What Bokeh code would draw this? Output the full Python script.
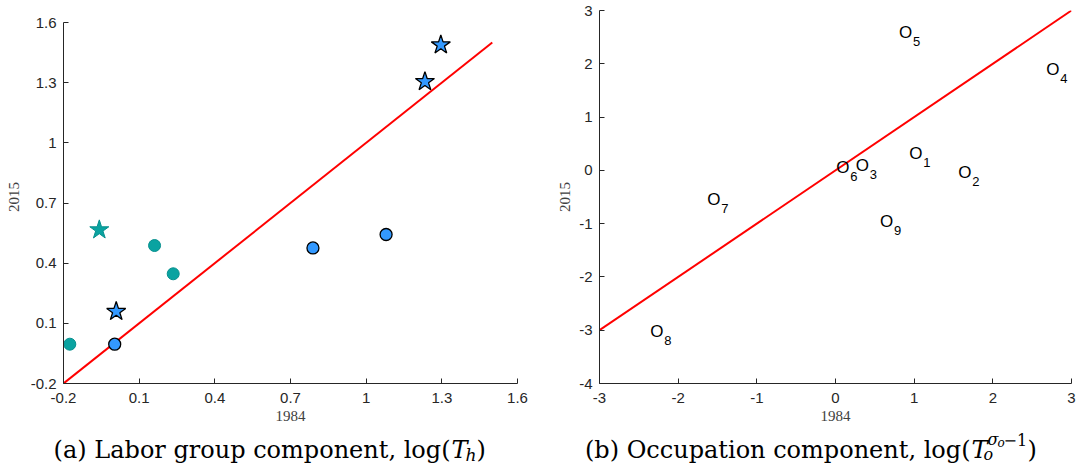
from bokeh.plotting import figure
from bokeh.layouts import row, column
from bokeh.models import Label, Range1d, FixedTicker
from bokeh.core.properties import value
from bokeh.embed import file_html
from bokeh.resources import INLINE

# ---------------- data: panel (a) ----------------
teal_circle_x = [-0.175, 0.161, 0.235]
teal_circle_y = [-0.004, 0.488, 0.347]
teal_star_x = [-0.058]
teal_star_y = [0.566]
blue_circle_x = [0.003, 0.789, 1.079]
blue_circle_y = [-0.004, 0.476, 0.543]
blue_star_x = [0.009, 1.233, 1.296]
blue_star_y = [0.159, 1.305, 1.488]
line_a = [-0.2, 1.5]
ticks_a = [-0.2, 0.1, 0.4, 0.7, 1.0, 1.3, 1.6]
tick_labels_a = ["-0.2", "0.1", "0.4", "0.7", "1", "1.3", "1.6"]

# ---------------- data: panel (b) ----------------
occ_ids = ["1", "2", "3", "4", "5", "6", "7", "8", "9"]
occ_x = [0.938, 1.561, 0.257, 2.68, 0.806, 0.011, -1.63, -2.355, 0.565]
occ_y = [0.318, -0.039, 0.097, 1.89, 2.59, 0.055, -0.553, -3.03, -0.966]
line_b = [-3, 3]
xticks_b = [-3, -2, -1, 0, 1, 2, 3]
xtick_labels_b = ["-3", "-2", "-1", "0", "1", "2", "3"]
yticks_b = [-4, -3, -2, -1, 0, 1, 2, 3]
ytick_labels_b = ["-4", "-3", "-2", "-1", "0", "1", "2", "3"]

AXC = "#262626"
TEAL = "#0aa3a1"
TEAL_EDGE = "#07908e"
BLUE = "#3399ff"
SANS = "Liberation Sans"
SERIF = "Liberation Serif"
CAP = "DejaVu Serif"
CAP_SIZE = 24

TOP = 10
FRAME_H = 373
BOTTOM = 48
H = TOP + FRAME_H + BOTTOM   # chart panels height
CAP_H = 472 - H              # caption strip height
BASELINE = 449               # caption baseline (page pixels)


def style(p, xt, xl, yt, yl, ystand=10):
    p.xaxis.ticker = FixedTicker(ticks=xt)
    p.yaxis.ticker = FixedTicker(ticks=yt)
    p.xaxis.major_label_overrides = {t: s for t, s in zip(xt, xl)}
    p.yaxis.major_label_overrides = {t: s for t, s in zip(yt, yl)}
    for ax in (p.xaxis, p.yaxis):
        ax.axis_line_color = AXC
        ax.axis_line_width = 1
        ax.major_tick_line_color = AXC
        ax.major_tick_in = 5
        ax.major_tick_out = 0
        ax.minor_tick_line_color = None
        ax.major_label_text_font = SANS
        ax.major_label_text_font_size = "15px"
        ax.major_label_text_color = AXC
        ax.axis_label_text_font = SERIF
        ax.axis_label_text_font_size = "15px"
        ax.axis_label_text_font_style = "normal"
        ax.axis_label_text_color = "#404040"
    p.xaxis.major_label_standoff = 9
    p.yaxis.major_label_standoff = 7
    p.xaxis.axis_label = "1984"
    p.yaxis.axis_label = "2015"
    p.xaxis.axis_label_standoff = 5
    p.yaxis.axis_label_standoff = ystand
    p.xgrid.visible = False
    p.ygrid.visible = False
    p.outline_line_color = None
    p.background_fill_color = "white"
    p.border_fill_color = "white"


# ---------------- panel (a) ----------------
# frame spans 10..383 px; the axis itself stops at 1.6 (22 px)
ya_top = 1.6 + (22 - TOP) * 1.8 / (383 - 22)
p1 = figure(width=540, height=H, x_range=Range1d(-0.2, 1.6), y_range=Range1d(-0.2, ya_top),
            output_backend="svg", toolbar_location=None,
            min_border_left=63, min_border_right=23, min_border_top=TOP, min_border_bottom=BOTTOM)
style(p1, ticks_a, tick_labels_a, ticks_a, tick_labels_a, ystand=9)
p1.yaxis.bounds = (-0.2, 1.6)

p1.line(line_a, line_a, line_color="#ff0000", line_width=2)
p1.scatter(teal_circle_x, teal_circle_y, marker="circle", size=12,
           fill_color=TEAL, line_color=TEAL_EDGE, line_width=1)
p1.scatter(teal_star_x, teal_star_y, marker="star", size=20,
           fill_color=TEAL, line_color=TEAL_EDGE, line_width=1)
p1.scatter(blue_circle_x, blue_circle_y, marker="circle", size=12,
           fill_color=BLUE, line_color="black", line_width=1.3)
p1.scatter(blue_star_x, blue_star_y, marker="star", size=20,
           fill_color=BLUE, line_color="black", line_width=1.3)

# ---------------- panel (b) ----------------
p2 = figure(width=541, height=H, x_range=Range1d(-3, 3), y_range=Range1d(-4, 3),
            output_backend="svg", toolbar_location=None,
            min_border_left=59, min_border_right=10, min_border_top=TOP, min_border_bottom=BOTTOM)
style(p2, xticks_b, xtick_labels_b, yticks_b, ytick_labels_b, ystand=6)

p2.line(line_b, line_b, line_color="#ff0000", line_width=2)
p2.text(occ_x, occ_y, text=["O"] * len(occ_ids), text_align="left", text_baseline="middle",
        text_font=value(SANS), text_font_size="17px", text_color="black")
p2.text(occ_x, occ_y, text=occ_ids, text_align="left", text_baseline="middle",
        x_offset=14, y_offset=9,
        text_font=value(SANS), text_font_size="13px", text_color="black")

# ---------------- caption strip ----------------
pc = figure(width=1081, height=CAP_H, x_range=Range1d(0, 1081), y_range=Range1d(0, CAP_H),
            output_backend="svg", toolbar_location=None,
            x_axis_location=None, y_axis_location=None,
            min_border=0, min_border_left=0, min_border_right=0,
            min_border_top=0, min_border_bottom=0)
pc.xgrid.visible = False
pc.ygrid.visible = False
pc.outline_line_color = None


def cap(px, dy, text, size, style_="normal", align="left"):
    pc.add_layout(Label(x=px, y=CAP_H - (BASELINE - H) + dy, text=text,
                        text_font=CAP, text_font_size=f"{size}px",
                        text_font_style=style_, text_align=align,
                        text_baseline="alphabetic", text_color="black"))


ax_ = 450
cap(ax_, 0, "(a) Labor group component, log(", CAP_SIZE, align="right")
cap(ax_ + 1, 0, "T", CAP_SIZE, "italic")
cap(ax_ + 15, -5, "h", 17, "italic")
cap(ax_ + 26, 0, ")", CAP_SIZE)

bx_ = 970
cap(bx_, 0, "(b) Occupation component, log(", CAP_SIZE, align="right")
cap(bx_ + 1, 0, "T", CAP_SIZE, "italic")
cap(bx_ + 13, -5, "o", 16, "italic")
cap(bx_ + 17, 10, "σ", 16, "italic")
cap(bx_ + 27, 7, "o", 12, "italic")
cap(bx_ + 33, 10, "−1", 16)
cap(bx_ + 57, 0, ")", CAP_SIZE)

layout = column(row(p1, p2), pc)
open("out.html", "w").write(file_html(layout, INLINE))
